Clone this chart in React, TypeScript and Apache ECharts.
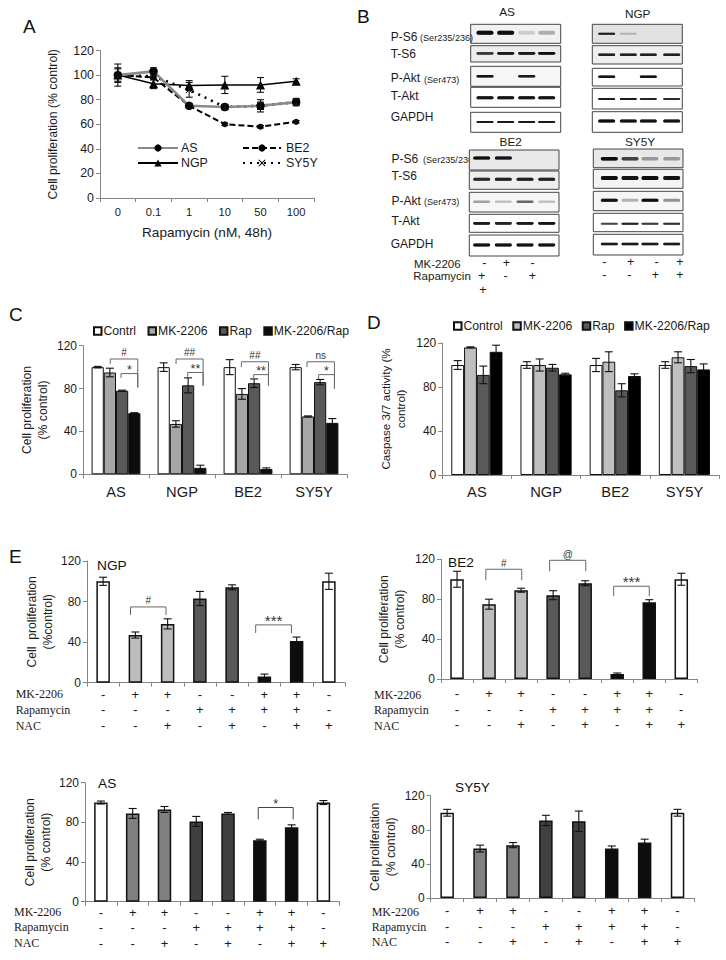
import React, { useEffect, useRef } from "react";
import * as echarts from "echarts";

const SANS = "'Liberation Sans', Arial, sans-serif";
const SERIF = "'Liberation Serif', 'Times New Roman', serif";
const INK = "#1a1a1a";
const AXIS = "#858585";

// Panel A
const doses = ["0", "0.1", "1", "10", "50", "100"];
const asLine = [100, 103, 75, 74, 75, 78];
const asErr = [5, 3, 2, 2, 3, 3];
const be2Line = [100, 98, 75, 60, 58, 62];
const be2Err = [1, 1, 1, 1, 1, 1];
const ngpLine = [100, 93, 91.5, 92, 92, 95];
const ngpErr = [9, 4, 4, 7, 6, 2];
const sy5yLine = [100, 99, 88, 74, 75, 78];
const sy5yErr = [6, 3, 6, 2, 5, 2];

// Panels C and D
const cells = ["AS", "NGP", "BE2", "SY5Y"];
const cControl = [100, 100, 100, 100];
const cControlErr = [0.7, 4, 7, 2.5];
const cMk = [95, 47, 75, 54];
const cMkErr = [4, 3, 5, 0.5];
const cRap = [78, 83, 85, 86];
const cRapErr = [0.5, 7, 4, 2.5];
const cCombo = [57, 6, 5, 48];
const cComboErr = [0.5, 2.5, 1, 4];
const dControl = [100, 100, 100, 100];
const dControlErr = [4, 3, 6, 3];
const dMk = [116, 100, 103, 107];
const dMkErr = [0.5, 5.5, 9, 5];
const dRap = [91, 97.5, 77, 99];
const dRapErr = [8, 3, 6, 6];
const dCombo = [112, 91.5, 90, 96];
const dComboErr = [6, 1, 2, 5];

// Panel E
const mkRow = ["-", "+", "+", "-", "-", "+", "+", "-"];
const rapRow = ["-", "-", "-", "+", "+", "+", "+", "-"];
const nacRow = ["-", "-", "+", "-", "+", "-", "+", "+"];
const eCategories = mkRow.map((m, i) => `${m}\n${rapRow[i]}\n${nacRow[i]}`);
const eNgp = [100, 47, 58, 83, 94, 6, 41, 100];
const eNgpErr = [4, 3, 5, 7, 2.5, 2.5, 4, 8];
const eBe2 = [100, 75, 89, 84, 96, 5, 77, 100];
const eBe2Err = [8, 5, 2, 4.5, 2.5, 1, 2.5, 6];
const eAs = [100, 89, 93, 81, 89, 62, 75, 100];
const eAsErr = [1.5, 5, 3, 5, 1, 1, 2.5, 2];
const eSy = [100, 58, 62, 91, 90, 58, 65, 100];
const eSyErr = [4, 4, 3, 6, 12, 3, 4, 4];

// Significance brackets: category position from, to, top, left end, right end, label
type Bracket = [number, number, number, number, number, string];
const cBrackets: Bracket[] = [
  [-0.086, 0.33, 107.6, 103, 81, "#"],
  [0.076, 0.33, 94, 90, 81, "*"],
  [0.91, 1.32, 107.6, 103, 82.7, "##"],
  [1.086, 1.32, 95, 91, 82.7, "**"],
  [1.9, 2.31, 105, 100, 82.7, "##"],
  [2.086, 2.31, 93, 89.5, 82.7, "**"],
  [2.894, 3.31, 105, 100, 80, "ns"],
  [3.07, 3.31, 93, 88.5, 80, "*"],
];
const ngpBrackets: Bracket[] = [
  [0.85, 1.95, 74.7, 66.8, 66.8, "#"],
  [4.73, 5.84, 57, 49, 49, "***"],
];
const be2Brackets: Bracket[] = [
  [0.9, 2.02, 110, 99, 99, "#"],
  [2.89, 4.02, 119, 108, 108, "@"],
  [4.89, 6.0, 93, 83, 83, "***"],
];
const asBrackets: Bracket[] = [[4.95, 6.05, 95, 83, 83, "*"]];

// Panel B: band strength per lane (0 = no band)
const blotNames = ["P-S6", "T-S6", "P-Akt", "T-Akt", "GAPDH"];
const blotAS = [[1, 1, 0.1, 0.2], [0.7, 0.9, 0.9, 1], [0.95, 0, 0.9, 0], [0.95, 0.95, 0.95, 0.95], [0.9, 0.9, 0.9, 0.9]];
const blotNGP = [[0.85, 0.15, 0, 0], [0.85, 0.85, 0.85, 0.85], [0.95, 0, 0.95, 0], [0.9, 0.9, 0.85, 0.8], [1, 0.95, 0.95, 0.95]];
const blotBE2 = [[1, 0.95, 0, 0], [0.8, 0.85, 0.85, 0.85], [0.25, 0.15, 0.45, 0.15], [0.9, 0.85, 0.9, 0.95], [0.95, 0.95, 0.95, 0.95]];
const blotSY = [[1, 0.6, 0.25, 0.25], [1, 0.95, 1, 0.95], [0.95, 0.2, 1, 0.3], [0.6, 0.85, 0.7, 0.75], [0.9, 0.9, 0.9, 0.9]];

const blotSignsLeft = [["-", "+", "-"], ["+", "-", "+"], ["+"]];
const blotSignsRight = [["-", "+", "-", "+"], ["-", "-", "+", "+"]];

function errorSeries(grid: number, values: number[], errs: number[], capWidth: number, offset: (size: number) => number, color = "#111") {
  return {
    type: "custom",
    xAxisIndex: grid,
    yAxisIndex: grid,
    silent: true,
    z: 5,
    data: values.map((v, i) => [i, v]),
    renderItem: (params: any, api: any) => {
      const i = params.dataIndex;
      const size = api.size([1, 0])[0];
      const c = api.coord([i, values[i]]);
      const x = c[0] + offset(size);
      const hi = api.coord([i, values[i] + errs[i]])[1];
      const lo = api.coord([i, values[i] - errs[i]])[1];
      const style = { stroke: color, lineWidth: 1.1, fill: "none" };
      const line = (x1: number, y1: number, x2: number, y2: number) => ({ type: "line", shape: { x1, y1, x2, y2 }, style });
      return {
        type: "group",
        children: [line(x, hi, x, lo), line(x - capWidth / 2, hi, x + capWidth / 2, hi), line(x - capWidth / 2, lo, x + capWidth / 2, lo)],
      };
    },
  };
}

function bracketSeries(grid: number, list: Bracket[], stroke: string) {
  return {
    type: "custom",
    xAxisIndex: grid,
    yAxisIndex: grid,
    silent: true,
    z: 6,
    data: list.map((b) => [Math.round(b[0]), b[2]]),
    renderItem: (params: any, api: any) => {
      const b = list[params.dataIndex];
      const size = api.size([1, 0])[0];
      const pos = (cat: number, v: number) => {
        const base = Math.round(cat);
        const p = api.coord([base, v]);
        return [p[0] + (cat - base) * size, p[1]];
      };
      const a = pos(b[0], b[3]);
      const t1 = pos(b[0], b[2]);
      const t2 = pos(b[1], b[2]);
      const e = pos(b[1], b[4]);
      const isStars = b[5][0] === "*";
      const fontSize = b[5] === "***" ? 15 : isStars ? 12.5 : 10;
      return {
        type: "group",
        children: [
          { type: "polyline", shape: { points: [a, t1, t2, e] }, style: { stroke, lineWidth: 1, fill: "none" } },
          {
            type: "text",
            style: {
              x: (t1[0] + t2[0]) / 2,
              y: t1[1] + (isStars ? 3 : -1),
              text: b[5],
              fill: "#333",
              font: `${fontSize}px ${SANS}`,
              textAlign: "center",
              textVerticalAlign: "bottom",
            },
          },
        ],
      };
    },
  };
}

function groupedBars(grid: number, names: string[], vals: number[][], errs: number[][], colors: string[]) {
  const out: any[] = [];
  vals.forEach((v, k) => {
    out.push({
      type: "bar",
      name: names[k],
      xAxisIndex: grid,
      yAxisIndex: grid,
      data: v,
      barGap: "0%",
      barCategoryGap: "26%",
      itemStyle: { color: colors[k], borderColor: "#111", borderWidth: 1 },
    });
  });
  errs.forEach((e, k) => {
    out.push(errorSeries(grid, vals[k], e, 8, (size) => ((k - 1.5) * size * 0.74) / 4));
  });
  return out;
}

function singleBars(grid: number, vals: number[], errs: number[], colors: string[]) {
  return [
    {
      type: "bar",
      xAxisIndex: grid,
      yAxisIndex: grid,
      data: vals,
      barWidth: 13.5,
      itemStyle: { color: (p: any) => colors[p.dataIndex], borderColor: "#111", borderWidth: 1.5 },
    },
    errorSeries(grid, vals, errs, 8, () => 0),
  ];
}

function lineSeries(name: string, data: number[], opts: any) {
  return { type: "line", name, xAxisIndex: 0, yAxisIndex: 0, data, z: opts.z ?? 3, ...opts };
}

function catAxis(grid: number, data: string[], fontSize: number, margin: number, extra: any = {}) {
  return {
    type: "category",
    gridIndex: grid,
    data,
    axisLine: { show: true, lineStyle: { color: AXIS } },
    axisTick: { show: true, length: 4, lineStyle: { color: AXIS } },
    axisLabel: { interval: 0, color: INK, fontFamily: SANS, fontSize, margin },
    ...extra,
  };
}

function valAxis(grid: number, interval: number, name: string, nameGap: number, nameSize: number, labelSize = 12.4) {
  return {
    type: "value",
    gridIndex: grid,
    min: 0,
    max: 120,
    interval,
    name,
    nameLocation: "middle",
    nameRotate: 90,
    nameGap,
    nameTextStyle: { color: INK, fontFamily: SANS, fontSize: nameSize, lineHeight: nameSize + 3.5 },
    splitLine: { show: false },
    axisLine: { show: true, lineStyle: { color: AXIS } },
    axisTick: { show: true, length: 4, lineStyle: { color: AXIS } },
    axisLabel: { color: INK, fontFamily: SANS, fontSize: labelSize, margin: 6 },
  };
}

function gridBox(l: number, t: number, r: number, b: number) {
  return { left: l, top: t, width: r - l, height: b - t, containLabel: false };
}

function titleAt(text: string, left: number, cy: number, fontSize: number) {
  return { text, left, top: cy - fontSize / 2 - 5, padding: 0, textStyle: { fontFamily: SANS, fontWeight: "normal", fontSize, color: "#111", lineHeight: fontSize + 10 } };
}

function txt(text: string, x: number, y: number, fontSize: number, extra: any = {}) {
  return { type: "text", x, y, silent: true, style: { text, fill: INK, font: `${fontSize}px ${SANS}`, textVerticalAlign: "middle", ...extra } };
}

const rowBoxesAS = [[24.3, 43.3], [45.7, 62], [66.3, 86.3], [87.3, 107.3], [112.3, 132.3]];
const rowBoxesNGP = [[24.3, 43.3], [45.7, 64], [68.3, 86], [88.3, 109], [111.7, 132.3]];
const rowBoxesBE2 = [[150, 170], [171, 189.3], [192.3, 212], [214.3, 232.3], [235, 256]];
const rowBoxesSY = [[149, 167.7], [169.3, 188.3], [191.3, 210.7], [213.3, 231.7], [234.3, 255]];

function blot(x0: number, x1: number, boxes: number[][], laneX: number[], bandY: number[], strengths: number[][], tints: string[], thick: number[]) {
  const out: any[] = [];
  boxes.forEach((b, r) => {
    out.push({
      type: "rect",
      silent: true,
      shape: { x: x0, y: b[0], width: x1 - x0, height: b[1] - b[0] },
      style: { fill: tints[r], stroke: "#444", lineWidth: 1 },
    });
    strengths[r].forEach((s, l) => {
      if (!s) return;
      out.push({
        type: "rect",
        silent: true,
        shape: { x: laneX[l] - 8.5, y: bandY[r] - thick[r] / 2, width: 17, height: thick[r], r: thick[r] / 2 },
        style: { fill: "#0a0a0a", opacity: s, shadowBlur: 1.5, shadowColor: "rgba(0,0,0,0.5)" },
      });
    });
  });
  return out;
}

function panelB() {
  const kids: any[] = [];
  // Lower labels sit under the blots, the box cuts the small text
  const lowerY = [158.7, 176, 200.7, 220.7, 244];
  blotNames.forEach((n, i) => kids.push(txt(n, i === 4 ? 390.7 : 391.5, lowerY[i], 12)));
  kids.push(txt("(Ser235/236)", 423, 159.5, 9.1));
  kids.push(txt("(Ser473)", 424, 202, 9.1));

  kids.push(...blot(470.7, 560.7, rowBoxesAS, [485, 505.7, 526.7, 546.7], [32.7, 53.3, 76.3, 97.7, 122], blotAS, ["#f1f1f1", "#ececec", "#f6f6f6", "#fff", "#fff"], [4, 2.8, 2.5, 3, 2]));
  kids.push(...blot(592.3, 682.3, rowBoxesNGP, [606.7, 628.3, 648.3, 671.7], [33.7, 54.7, 76.7, 99, 121], blotNGP, ["#e2e2e2", "#efefef", "#fff", "#fff", "#fff"], [2, 2.5, 2.5, 2.2, 3]));
  kids.push(...blot(469.3, 559, rowBoxesBE2, [481.7, 503.3, 525, 546.7], [158, 179.3, 201.7, 223.3, 245], blotBE2, ["#e9e9e9", "#eeeeee", "#f6f6f6", "#fff", "#fff"], [3, 3, 2.4, 2.8, 2.8]));
  kids.push(...blot(593.3, 683, rowBoxesSY, [609.3, 630, 650, 671.7], [158.7, 178, 200.3, 223.7, 244], blotSY, ["#e8e8e8", "#f4f4f4", "#f6f6f6", "#fff", "#fff"], [3.4, 4, 3, 2, 2.5]));

  // Upper labels overlap the blot boxes
  const upperY = [36.7, 54, 78.3, 96, 117.3];
  blotNames.forEach((n, i) => kids.push(txt(n, 390.7, upperY[i], 12)));
  kids.push(txt("(Ser235/236)", 420, 37.5, 9.1));
  kids.push(txt("(Ser473)", 424, 79.5, 9.1));

  const t = (s: string, x: number, y: number) => txt(s, x, y, 11.8, { textAlign: "center" });
  kids.push(t("AS", 507, 12.3), t("NGP", 637.7, 14.3), t("BE2", 510.7, 141.7), t("SY5Y", 640, 141.7));

  kids.push(txt("MK-2206", 414, 263.7, 11.5), txt("Rapamycin", 413.3, 276, 11.5));
  const leftXs = [[484.3, 506.3, 532.7], [481.7, 505.7, 532.3], [483]];
  const leftYs = [262.7, 276, 290];
  blotSignsLeft.forEach((row, r) => row.forEach((s, c) => kids.push(txt(s, leftXs[r][c], leftYs[r], 12.5, { textAlign: "center" }))));
  const rightXs = [[604.3, 630.7, 656.7, 680], [604.3, 629.3, 655.3, 680]];
  const rightYs = [262, 274.7];
  blotSignsRight.forEach((row, r) => row.forEach((s, c) => kids.push(txt(s, rightXs[r][c], rightYs[r], 12.5, { textAlign: "center" }))));
  return { type: "group", silent: true, children: kids };
}

function rowLabels(x: number, ys: number[]) {
  const labels = ["MK-2206", "Rapamycin", "NAC"];
  return labels.map((l, i) => ({ type: "text", x, y: ys[i], silent: true, style: { text: l, fill: INK, font: `12px ${SERIF}`, textVerticalAlign: "middle" } }));
}

function buildOption() {
  const lightE = ["#fff", "#bdbdbd", "#bdbdbd", "#595959", "#595959", "#0d0d0d", "#0d0d0d", "#fff"];
  const darkE = ["#fff", "#808080", "#808080", "#404040", "#404040", "#0d0d0d", "#0d0d0d", "#fff"];
  const cColors = ["#fff", "#a6a6a6", "#595959", "#0d0d0d"];
  const dColors = ["#fff", "#bfbfbf", "#595959", "#000"];

  const xCross = "path://M1 0L5 4L9 0L10 1L6 5L10 9L9 10L5 6L1 10L0 9L4 5L0 1Z";

  return {
    animation: false,
    backgroundColor: "#fff",
    textStyle: { fontFamily: SANS },
    title: [
      titleAt("A", 23, 26, 19),
      titleAt("B", 357, 16, 19),
      titleAt("C", 9, 314, 19),
      titleAt("D", 367, 322, 19),
      titleAt("E", 9, 556, 19),
      titleAt("NGP", 97, 566, 13.7),
      titleAt("BE2", 448, 562.5, 13.7),
      titleAt("AS", 98, 784, 13.7),
      titleAt("SY5Y", 455, 788, 13.7),
    ],
    grid: [
      gridBox(100, 50.5, 314, 198),
      gridBox(83, 345.7, 347, 474.3),
      gridBox(442.3, 343, 719, 475),
      gridBox(87, 561, 345, 682.7),
      gridBox(441, 559.3, 697.3, 679),
      gridBox(85, 782.7, 339.3, 901.7),
      gridBox(430.7, 795.7, 694, 898),
    ],
    xAxis: [
      catAxis(0, doses, 11.2, 8.5, {
        name: "Rapamycin (nM, 48h)",
        nameLocation: "middle",
        nameGap: 27,
        nameTextStyle: { color: INK, fontFamily: SANS, fontSize: 13.6 },
      }),
      catAxis(1, cells, 14.7, 10),
      catAxis(2, cells, 14.7, 9),
      ...[
        [3, 4],
        [4, 7],
        [5, 3],
        [6, 5],
      ].map(([g, m]) => ({
        ...catAxis(g, eCategories, 13, m),
        axisLabel: { interval: 0, color: INK, fontFamily: SANS, fontSize: 13, margin: m, lineHeight: 15.5 },
      })),
    ],
    yAxis: [
      valAxis(0, 20, "Cell proliferation (% control)", 39, 12.2),
      valAxis(1, 40, "Cell proliferation\n(% control)", 32.5, 12.2, 12),
      valAxis(2, 40, "Caspase 3/7 activity (%\ncontrol)", 34, 11.6, 12),
      valAxis(3, 40, "Cell  proliferation\n(%control)", 31, 12.2, 12),
      valAxis(4, 40, "Cell proliferation\n(% control)", 33, 12.2, 12),
      valAxis(5, 40, "Cell proliferation\n(% control)", 31, 12.2, 12),
      valAxis(6, 40, "Cell proliferation\n(% control)", 32, 12.2, 12),
    ],
    legend: [
      {
        left: 137,
        top: 142,
        padding: 0,
        orient: "vertical",
        itemWidth: 40,
        itemHeight: 9,
        itemGap: 3,
        selectedMode: false,
        data: ["AS", "NGP"],
        textStyle: { color: INK, fontFamily: SANS, fontSize: 12.4, padding: [0, 0, 0, -2] },
      },
      {
        left: 242,
        top: 142,
        padding: 0,
        orient: "vertical",
        itemWidth: 38,
        itemHeight: 9,
        itemGap: 3,
        selectedMode: false,
        data: ["BE2", "SY5Y"],
        textStyle: { color: INK, fontFamily: SANS, fontSize: 12.4, padding: [0, 0, 0, 0] },
      },
      {
        left: 93,
        top: 325,
        padding: 0,
        itemWidth: 7.5,
        itemHeight: 7.5,
        itemGap: 11.5,
        icon: "rect",
        selectedMode: false,
        data: ["Contrl", "MK-2206", "Rap", "MK-2206/Rap"],
        textStyle: { color: INK, fontFamily: SANS, fontSize: 12.2, padding: [0, 0, 0, -3] },
      },
      {
        left: 453,
        top: 320,
        padding: 0,
        itemWidth: 7.5,
        itemHeight: 7.5,
        itemGap: 9.5,
        icon: "rect",
        selectedMode: false,
        data: [
          { name: "Control" },
          { name: "MK-2206", itemStyle: { color: dColors[1] } },
          { name: "Rap", itemStyle: { color: dColors[2] } },
          { name: "MK-2206/Rap", itemStyle: { color: dColors[3] } },
        ],
        textStyle: { color: INK, fontFamily: SANS, fontSize: 12.2, padding: [0, 0, 0, -3] },
      },
    ],
    graphic: [
      panelB(),
      ...rowLabels(15.7, [694, 710, 725.5]),
      ...rowLabels(374, [695, 710, 726]),
      ...rowLabels(14, [912.3, 927, 943]),
      ...rowLabels(371.7, [912, 926.6, 942]),
    ],
    series: [
      lineSeries("AS", asLine, {
        symbol: "circle",
        symbolSize: 8.5,
        z: 4,
        lineStyle: { color: "#8a8a8a", width: 2.6 },
        itemStyle: { color: "#000" },
      }),
      lineSeries("NGP", ngpLine, {
        symbol: "triangle",
        symbolSize: 9,
        lineStyle: { color: "#000", width: 1.5 },
        itemStyle: { color: "#000" },
      }),
      lineSeries("BE2", be2Line, {
        symbol: "circle",
        symbolSize: 6,
        lineStyle: { color: "#000", width: 2, type: [6, 3] },
        itemStyle: { color: "#000" },
      }),
      lineSeries("SY5Y", sy5yLine, {
        symbol: xCross,
        symbolSize: 7,
        lineStyle: { color: "#000", width: 2.6, type: [2, 5] },
        itemStyle: { color: "#000" },
      }),
      errorSeries(0, asLine, asErr, 7, () => 0),
      errorSeries(0, be2Line, be2Err, 7, () => 0),
      errorSeries(0, ngpLine, ngpErr, 7, () => 0),
      errorSeries(0, sy5yLine, sy5yErr, 7, () => 0),
      ...groupedBars(1, ["Contrl", "MK-2206", "Rap", "MK-2206/Rap"], [cControl, cMk, cRap, cCombo], [cControlErr, cMkErr, cRapErr, cComboErr], cColors),
      ...groupedBars(2, ["Control", "MK-2206", "Rap", "MK-2206/Rap"], [dControl, dMk, dRap, dCombo], [dControlErr, dMkErr, dRapErr, dComboErr], dColors),
      bracketSeries(1, cBrackets, "#666"),
      ...singleBars(3, eNgp, eNgpErr, lightE),
      bracketSeries(3, ngpBrackets, "#666"),
      ...singleBars(4, eBe2, eBe2Err, lightE),
      bracketSeries(4, be2Brackets, "#666"),
      ...singleBars(5, eAs, eAsErr, darkE),
      bracketSeries(5, asBrackets, "#444"),
      ...singleBars(6, eSy, eSyErr, darkE),
    ],
  };
}

export default function App() {
  const ref = useRef<HTMLDivElement>(null);
  useEffect(() => {
    const chart = echarts.init(ref.current!, undefined, { renderer: "svg" });
    chart.setOption(buildOption() as any);
    return () => chart.dispose();
  }, []);
  return <div ref={ref} style={{ position: "absolute", left: 0, top: 0, width: 726, height: 960 }} />;
}
